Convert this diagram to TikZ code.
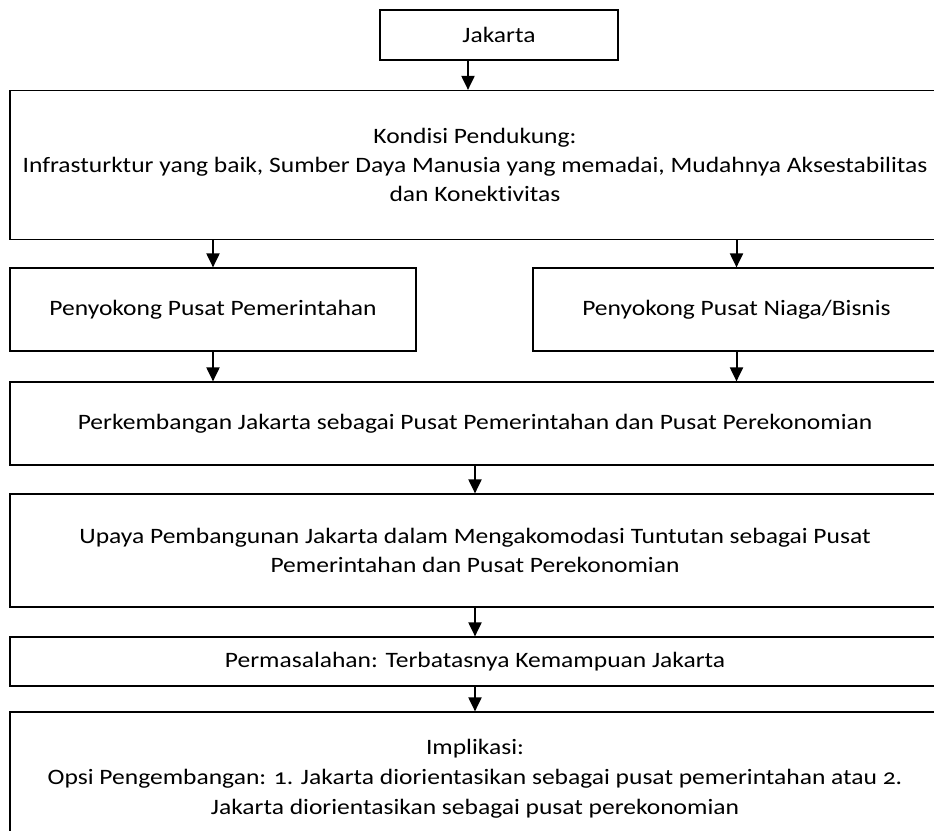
\documentclass[tikz,border=0pt]{standalone}
\usepackage{fontspec}
\setmainfont[FakeStretch=1.16, Numbers=OldStyle, Ligatures=NoCommon]{Carlito}
\usetikzlibrary{arrows.meta,positioning}

\begin{document}
\begin{tikzpicture}[x=1pt, y=-1pt,
    box/.style={draw, line width=1.2pt, align=center, inner sep=0pt,
        font=\fontsize{22}{29}\selectfont},
    arr/.style={line width=2pt, -{Triangle[length=14pt,width=13pt]}}]
        \clip (0,0) rectangle (934,830);
        \node[box, minimum width=238, minimum height=50] (jkt) at (499,35) {Jakarta};
        \node[box, minimum width=930, minimum height=149] (kondisi) at (475,165)
            {Kondisi Pendukung:\\Infrasturktur yang baik, Sumber Daya Manusia yang memadai, Mudahnya Aksestabilitas\\dan Konektivitas};
        \node[box, minimum width=406, minimum height=83] (pem) at (213,309.5) {Penyokong Pusat Pemerintahan};
        \node[box, minimum width=407, minimum height=83] (niaga) at (736.5,309.5) {Penyokong Pusat Niaga/Bisnis};
        \node[box, minimum width=930, minimum height=83] (perk) at (475,423.5)
            {Perkembangan Jakarta sebagai Pusat Pemerintahan dan Pusat Perekonomian};
        \node[box, minimum width=930, minimum height=113] (upaya) at (475,550.5)
            {Upaya Pembangunan Jakarta dalam Mengakomodasi Tuntutan sebagai Pusat\\Pemerintahan dan Pusat Perekonomian};
        \node[box, minimum width=930, minimum height=49] (masalah) at (475,661.5)
            {Permasalahan: Terbatasnya Kemampuan Jakarta};
        \node[box, minimum width=930, minimum height=134, font=\fontsize{22}{30}\selectfont] (impl) at (475,779)
            {Implikasi:\\Opsi Pengembangan: 1. Jakarta diorientasikan sebagai pusat pemerintahan atau 2.\\Jakarta diorientasikan sebagai pusat perekonomian};
        % arrows
        \draw[arr] ([xshift=-31pt]jkt.south) -- ([xshift=-31pt]jkt.south |- kondisi.north);
        \draw[arr] (kondisi.south -| pem.north) -- (pem.north);
        \draw[arr] (kondisi.south -| niaga.north) -- (niaga.north);
        \draw[arr] (pem.south) -- (pem.south |- perk.north);
        \draw[arr] (niaga.south) -- (niaga.south |- perk.north);
        \draw[arr] (perk.south) -- (upaya.north);
        \draw[arr] (upaya.south) -- (masalah.north);
        \draw[arr] (masalah.south) -- (impl.north);
    \end{tikzpicture}
\end{document}
